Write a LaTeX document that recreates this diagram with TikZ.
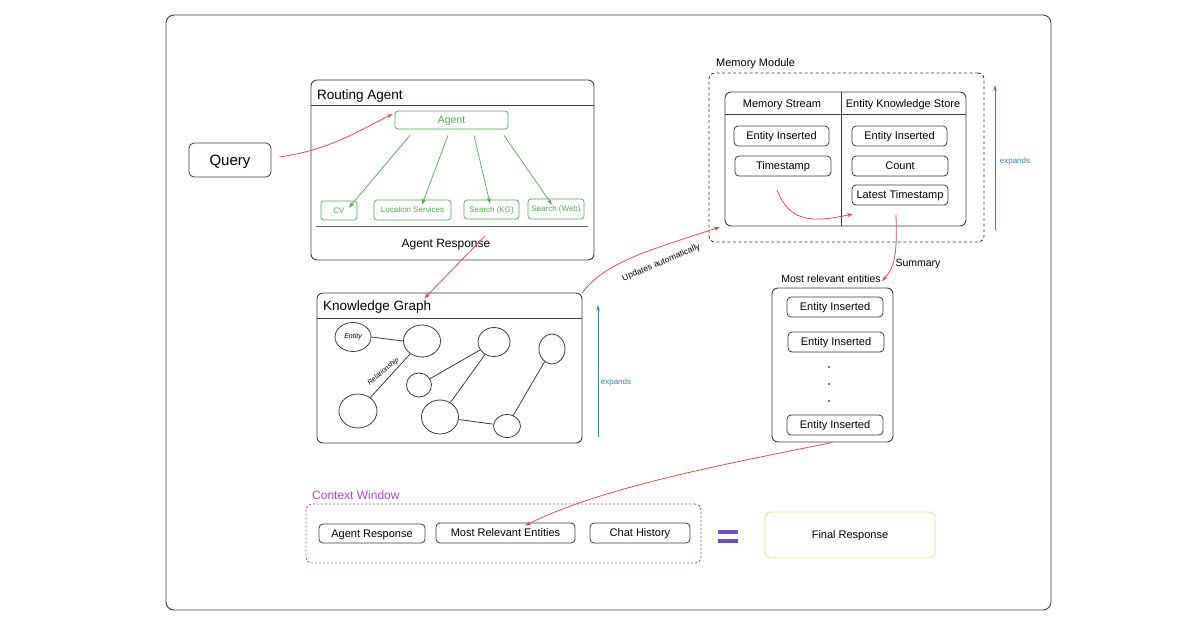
\documentclass[tikz,border=0pt]{standalone}
\usepackage{fontspec}
\setmainfont{Liberation Sans}
\usetikzlibrary{arrows.meta,shapes.geometric}
\newcommand\fsz[1]{\fontsize{#1}{#1}\selectfont}
\definecolor{redc}{RGB}{214,82,78}
\definecolor{greenc}{RGB}{84,168,84}
\definecolor{bluec}{RGB}{58,132,170}
\definecolor{purplec}{RGB}{170,70,200}
\definecolor{eqc}{RGB}{104,80,208}
\definecolor{yellowc}{RGB}{242,218,140}
\definecolor{linec}{RGB}{60,60,60}
\tikzset{
  box/.style={draw=linec, rounded corners=4pt, line width=0.8pt, inner sep=0pt, text depth=0pt},
  frame/.style={draw=linec, rounded corners=6pt, line width=0.9pt, inner sep=0pt},
  gbox/.style={draw=greenc, rounded corners=3pt, line width=0.7pt, text=greenc, inner sep=0pt, text depth=0pt, font=\fsz{8}},
  ibox/.style={box, font=\fsz{11}},
  garr/.style={draw=greenc, line width=0.7pt, -{Stealth[length=6pt,width=4pt]}},
  rarr/.style={draw=redc, line width=0.8pt, -{Stealth[length=6pt,width=4pt]}},
  barr/.style={draw=bluec, line width=0.9pt, -{Stealth[length=6pt,width=3.5pt]}},
  gnode/.style={draw=linec, ellipse, line width=0.8pt, inner sep=0pt},
  gedge/.style={draw=linec, line width=0.8pt},
  lbl/.style={inner sep=0pt, text depth=0pt},
}
\begin{document}
\begin{tikzpicture}[x=1pt,y=-1pt]
\useasboundingbox (0,0) rectangle (1200,630);
\fill[white] (0,0) rectangle (1200,630);
% outer frame
\node[frame, minimum width=885, minimum height=595, rounded corners=8pt] (outer) at (608.5,312.5) {};

% Query
\node[box, rounded corners=5pt, minimum width=82, minimum height=34, font=\fsz{15}] (query) at (230,160) {Query};

% Routing Agent
\node[frame, minimum width=283, minimum height=180] (ra) at (452.5,170) {};
\node[lbl, anchor=west, font=\fsz{13.5}] (ratitle) at (317,94.5) {Routing Agent};
\draw[linec, line width=0.8pt] (ra.west |- 0,105) -- (ra.east |- 0,105);
\draw[black!60, line width=0.8pt] (316,226) -- (588,226);
\node[lbl, font=\fsz{12}] (ar) at (446,243.5) {Agent Response};
\node[gbox, minimum width=113, minimum height=18, font=\fsz{10.5}] (agent) at (451.5,120) {Agent};
\node[gbox, minimum width=36, minimum height=19] (cv) at (339,210.5) {CV};
\node[gbox, minimum width=77, minimum height=20] (loc) at (412.5,210) {Location Services};
\node[gbox, minimum width=55, minimum height=19] (skg) at (491.5,209.5) {Search (KG)};
\node[gbox, minimum width=56, minimum height=20] (sweb) at (556,209) {Search (Web)};
\draw[garr] ([xshift=-41.5,yshift=-6]agent.south) -- ([xshift=10,yshift=-7]cv.north);
\draw[garr] ([xshift=-3.5,yshift=-6]agent.south) -- ([xshift=9.5,yshift=-5]loc.north);
\draw[garr] ([xshift=22.5,yshift=-6]agent.south) -- ([xshift=-1.5,yshift=-4]skg.north);
\draw[garr] ([xshift=52.5,yshift=-6]agent.south) -- ([xshift=-4,yshift=-6]sweb.north);
\draw[rarr] ([xshift=8,yshift=3]query.east) .. controls (330,150) and (360,130) .. ([xshift=-2,yshift=6]agent.west);

% Memory Module
\node[lbl, anchor=west, font=\fsz{11}] (mmlabel) at (716,62.5) {Memory Module};
\node[frame, dashed, dash pattern=on 3pt off 2.5pt, minimum width=275, minimum height=169] (mm) at (846.5,157.5) {};
\node[frame, minimum width=241, minimum height=134] (tbl) at (845.5,159) {};
\draw[linec, line width=0.8pt] (tbl.west |- 0,114) -- (tbl.east |- 0,114);
\draw[linec, line width=0.8pt] (841,0 |- tbl.north) -- (841,0 |- tbl.south);
\node[lbl, font=\fsz{11}] (ms) at (782,103.5) {Memory Stream};
\node[lbl, font=\fsz{11}] (eks) at (903,103.5) {Entity Knowledge Store};
\node[ibox, minimum width=95, minimum height=20] (ei1) at (781.5,136) {Entity Inserted};
\node[ibox, minimum width=96, minimum height=20] (ts) at (783,166) {Timestamp};
\node[ibox, minimum width=95, minimum height=20] (ei2) at (899.5,136) {Entity Inserted};
\node[ibox, minimum width=96, minimum height=20] (cnt) at (900,166) {Count};
\node[ibox, minimum width=96, minimum height=20] (lt) at (900,195) {Latest Timestamp};
\coordinate (c1) at (777,190);
\coordinate (c2) at (853,214);
\draw[rarr] (c1) .. controls (790,224) and (815,222) .. (c2);
\coordinate (e1a) at (995,230);
\coordinate (e1b) at (995,85);
\draw[barr] (e1a) -- (e1b);
\node[lbl, font=\fsz{8}, text=bluec] (exp1) at (1015,160.5) {expands};

% Knowledge Graph
\node[frame, minimum width=265, minimum height=150] (kg) at (449.5,368) {};
\node[lbl, anchor=west, font=\fsz{13.5}] (kgtitle) at (323,305.5) {Knowledge Graph};
\draw[linec, line width=0.8pt] (kg.west |- 0,318) -- (kg.east |- 0,318);
\node[gnode, minimum width=36, minimum height=29, font=\fsz{7}\itshape] (ent) at (353,337) {Entity};
\node[gnode, minimum width=37, minimum height=32] (g2) at (422,341) {};
\node[gnode, minimum width=32, minimum height=29] (g3) at (494,342) {};
\node[gnode, minimum width=26, minimum height=30] (g4) at (552,349) {};
\node[gnode, minimum width=25, minimum height=24] (g5) at (419,385) {};
\node[gnode, minimum width=38, minimum height=34] (g6) at (358,411) {};
\node[gnode, minimum width=37, minimum height=34] (g7) at (440,417) {};
\node[gnode, minimum width=27, minimum height=23] (g8) at (507,426) {};
\draw[gedge] (ent.east) -- (g2.west);
\draw[gedge] (g6) -- (g2);
\node[lbl, rotate=40, font=\fsz{7}\itshape] (rel) at (383,371) {Relationship};
\draw[gedge] (g5) -- (g3);
\draw[gedge] (g7) -- (g3);
\draw[gedge] (g7) -- (g8);
\draw[gedge] (g8) -- (g4);
\coordinate (e2a) at (598,437);
\coordinate (e2b) at (598,305);
\draw[barr] (e2a) -- (e2b);
\node[lbl, font=\fsz{8}, text=bluec] (exp2) at (616,381.5) {expands};
\draw[rarr] ([xshift=39,yshift=12]ar.south) -- ([xshift=-7,yshift=2]kgtitle.north east);
\coordinate (u1) at (720,227);
\draw[rarr] (kg.north east) .. controls (605,262) and (650,250) .. (u1);
\node[lbl, rotate=23, font=\fsz{8.5}] (upd) at (661,262) {Updates automatically};

% Most relevant entities
\node[lbl, font=\fsz{10.5}] (mrelabel) at (831,279) {Most relevant entities};
\node[frame, minimum width=121, minimum height=154] (mre) at (832.5,365) {};
\node[ibox, minimum width=96, minimum height=20] (m1) at (835,307) {Entity Inserted};
\node[ibox, minimum width=96, minimum height=20] (m2) at (836,342) {Entity Inserted};
\node[ibox, minimum width=96, minimum height=20] (m3) at (835,425) {Entity Inserted};
\fill[black] (829,367) circle (0.9);
\fill[black] (829,384) circle (0.9);
\fill[black] (829,401) circle (0.9);
\coordinate (s1) at (896,215);
\coordinate (s2) at (882,281);
\draw[rarr] (s1) .. controls (897,250) and (896,266) .. (s2);
\node[lbl, font=\fsz{10.5}] (summ) at (918,263) {Summary};

% Context Window
\node[lbl, anchor=west, font=\fsz{12}, text=purplec] (cwlabel) at (312,495.5) {Context Window};
\node[frame, draw=purplec, dashed, dash pattern=on 2pt off 2pt, minimum width=395, minimum height=59] (cw) at (503.5,533.5) {};
\node[ibox, minimum width=106, minimum height=19] (car) at (372,533.5) {Agent Response};
\node[ibox, minimum width=139, minimum height=20] (cmre) at (505.5,533) {Most Relevant Entities};
\node[ibox, minimum width=100, minimum height=20] (cch) at (640,533) {Chat History};
\draw[rarr] (mre.south) .. controls (720,465) and (600,488) .. ([xshift=19.5,yshift=-3]cmre.north);
\fill[eqc] (718,529.5) rectangle (738,533.5);
\fill[eqc] (718,538.5) rectangle (738,542.5);
\node[box, draw=yellowc, rounded corners=6pt, minimum width=170, minimum height=46, font=\fsz{11}] (final) at (850,535) {Final Response};
\end{tikzpicture}
\end{document}
